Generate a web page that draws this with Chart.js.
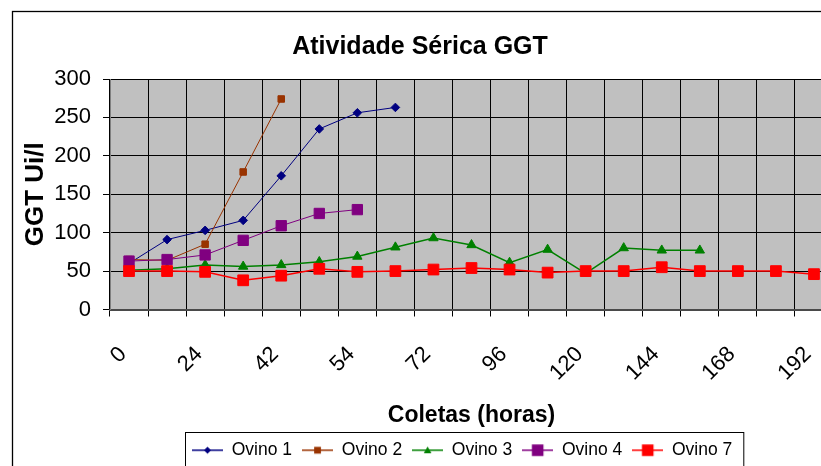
<!DOCTYPE html>
<html><head><meta charset="utf-8">
<script src="https://cdn.jsdelivr.net/npm/chart.js@4"></script>
<style>html,body{margin:0;padding:0;background:#fff;overflow:hidden;width:821px;height:466px}canvas{display:block}</style>
</head><body>
<canvas id="c" width="870" height="480"></canvas>
<script>
// ---- data ----
const categories = ["0","12","24","36","42","48","54","60","72","84","96","108","120","132","144","156","168","180","192"];
const ovino1 = [60, 91, 103, 116, 174, 235, 256, 263];
const ovino2 = [65, 64, 85, 179, 274];
const ovino3 = [51, 53, 58, 56, 58, 62, 69, 81, 93, 84, 61, 78, 47, 80, 77, 77];
const ovino4 = [63, 65, 71, 90, 109, 125, 130];
const ovino7 = [50, 50, 49, 38, 44, 53, 49, 50, 52, 54, 52, 48, 50, 50, 55, 50, 50, 50, 46];
const seriesNames = ["Ovino 1", "Ovino 2", "Ovino 3", "Ovino 4", "Ovino 7"];
const seriesValues = [ovino1, ovino2, ovino3, ovino4, ovino7];
const yMin = 0, yMax = 300, yStep = 50;

// ---- styles ----
const FONT = "'Liberation Sans', Arial, sans-serif";
const styles = [
  {color:'#000080', pointStyle:'rectRot', radius:4.3, width:1, legR:3.6},
  {color:'#993300', pointStyle:'rect', radius:4.6, width:1, legR:3.4},
  {color:'#008000', pointStyle:'triangle', radius:5.4, width:1.5, legR:3.8},
  {color:'#800080', pointStyle:'rect', radius:7.3, width:1, legR:5.8},
  {color:'#FF0000', pointStyle:'rect', radius:7.6, width:1.5, legR:5.8}
];

function legendIcon(st) {
  const c = document.createElement('canvas');
  c.width = 31; c.height = 14;
  const g = c.getContext('2d');
  g.strokeStyle = st.color; g.globalAlpha = 0.75; g.lineWidth = 2;
  g.beginPath(); g.moveTo(0, 7); g.lineTo(31, 7); g.stroke();
  g.globalAlpha = 1; g.fillStyle = st.color;
  const r = st.legR, cx = 15.5, cy = 7;
  g.beginPath();
  if (st.pointStyle === 'rectRot') {
    g.moveTo(cx, cy - r); g.lineTo(cx + r, cy); g.lineTo(cx, cy + r); g.lineTo(cx - r, cy); g.closePath();
  } else if (st.pointStyle === 'triangle') {
    g.moveTo(cx, cy - r); g.lineTo(cx + r, cy + r * 0.8); g.lineTo(cx - r, cy + r * 0.8); g.closePath();
  } else {
    g.rect(cx - r, cy - r, 2 * r, 2 * r);
  }
  g.fill();
  return c;
}

const datasets = seriesNames.map((name, i) => ({
  label: name,
  data: seriesValues[i],
  borderColor: styles[i].color,
  backgroundColor: styles[i].color,
  borderWidth: styles[i].width,
  pointStyle: styles[i].pointStyle,
  pointRadius: styles[i].radius,
  pointBorderWidth: 1,
  pointBorderColor: styles[i].color,
  pointBackgroundColor: styles[i].color,
  tension: 0,
  order: seriesNames.length - i
}));

const decor = {
  id: 'decor',
  afterLayout(chart) {
    const L = chart.legend;
    const pad = L.options.labels.padding;
    const lw = L.lineWidths[0];
    const startX = (L.left + pad + L.right - lw) / 2;
    const dx = 192 - startX;
    L.left += dx; L.right += dx;
    const dy = 431.5 - L.top;
    L.top += dy; L.bottom += dy;
    chart.$legFrame = {x: 185.5, y: 432.5, w: (lw - pad) + 7 + 11};
  },
  beforeDraw(chart) {
    const {ctx, chartArea: a} = chart;
    ctx.save();
    ctx.fillStyle = '#fff'; ctx.fillRect(0, 0, chart.width, chart.height);
    ctx.fillStyle = '#C0C0C0'; ctx.fillRect(a.left, a.top, a.right - a.left, a.bottom - a.top);
    ctx.strokeStyle = '#000'; ctx.lineWidth = 1.3;
    ctx.strokeRect(12.5, 11.5, chart.width + 50, chart.height + 50);
    ctx.restore();
  },
  afterDraw(chart) {
    const f = chart.$legFrame; if (!f) return;
    const ctx = chart.ctx;
    ctx.save(); ctx.strokeStyle = '#000'; ctx.lineWidth = 1;
    ctx.strokeRect(f.x, f.y, f.w, 80);
    ctx.restore();
  }
};

new Chart(document.getElementById('c'), {
  type: 'line',
  data: { labels: categories, datasets },
  plugins: [decor],
  options: {
    responsive: false,
    animation: false,
    layout: { padding: { left: 7, right: 37, top: 32, bottom: 13 } },
    plugins: {
      title: { display: true, text: 'Atividade Sérica GGT', color: '#000',
        font: { family: FONT, size: 25, weight: 'bold' }, padding: { top: 0, bottom: 17 } },
      legend: { position: 'bottom',
        labels: { usePointStyle: true, pointStyleWidth: 31, padding: 10, color: '#000',
          font: { family: FONT, size: 17.5 },
          generateLabels(chart) {
            return chart.data.datasets.map((ds, i) => ({
              text: ds.label, datasetIndex: i, pointStyle: legendIcon(styles[i]),
              fillStyle: styles[i].color, strokeStyle: styles[i].color, lineWidth: 0, hidden: false, fontColor: '#000'
            }));
          } } },
      tooltip: { enabled: false }
    },
    scales: {
      x: {
        offset: true,
        grid: { offset: true, color: '#000', lineWidth: 1, tickLength: 7, tickColor: '#000' },
        border: { color: '#4a4a4a', width: 2 },
        ticks: { autoSkip: false, minRotation: 45, maxRotation: 45, padding: 25, labelOffset: -6, color: '#000',
          font: { family: FONT, size: 22 },
          callback: function (v, i) { return i % 2 === 0 ? this.getLabelForValue(v) : ''; } },
        title: { display: true, text: 'Coletas (horas)', color: '#000',
          font: { family: FONT, size: 23, weight: 'bold' }, padding: { top: 0, bottom: 0 } },
        afterFit(s) { s.height = 120; }
      },
      y: {
        min: yMin, max: yMax,
        grid: { color: '#000', lineWidth: 1, tickLength: 7, tickColor: '#000' },
        border: { color: '#808080', width: 1 },
        ticks: { stepSize: yStep, padding: 12, color: '#000', font: { family: FONT, size: 22 } },
        title: { display: true, text: 'GGT Ui/l', color: '#000',
          font: { family: FONT, size: 26, weight: 'bold' }, padding: { top: 13, bottom: 0 } },
        afterFit(s) { s.width = 103; }
      }
    }
  }
});
</script>
</body></html>
